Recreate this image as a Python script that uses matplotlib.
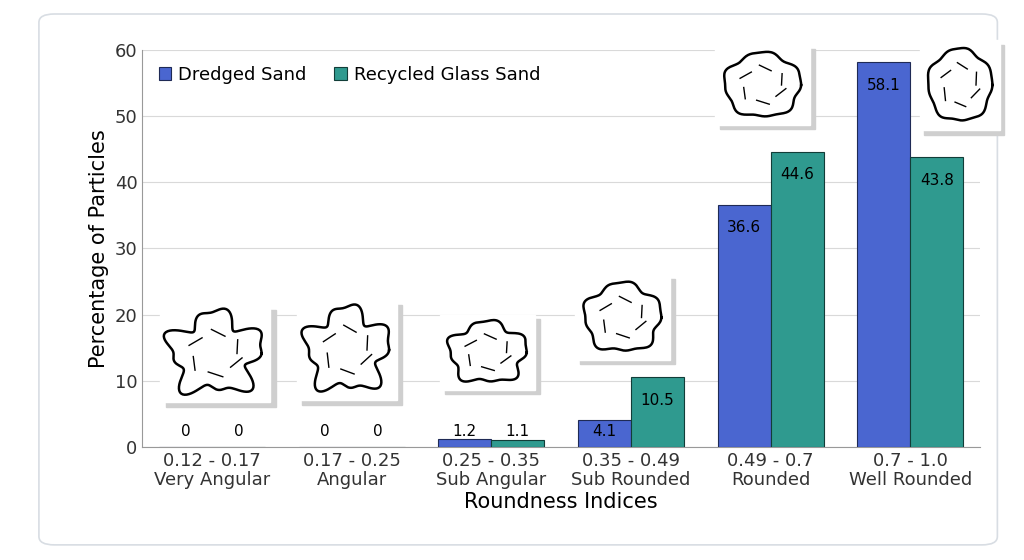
import matplotlib.pyplot as plt
import numpy as np
from matplotlib.patches import FancyBboxPatch, Rectangle

categories = ["0.12 - 0.17\nVery Angular", "0.17 - 0.25\nAngular", "0.25 - 0.35\nSub Angular",
              "0.35 - 0.49\nSub Rounded", "0.49 - 0.7\nRounded", "0.7 - 1.0\nWell Rounded"]
dredged = [0, 0, 1.2, 4.1, 36.6, 58.1]
recycled = [0, 0, 1.1, 10.5, 44.6, 43.8]
dredged_labels = ["0", "0", "1.2", "4.1", "36.6", "58.1"]
recycled_labels = ["0", "0", "1.1", "10.5", "44.6", "43.8"]

blue = "#4a66d0"
teal = "#2f9a8f"

fig = plt.figure(figsize=(10.24, 5.6), dpi=100)
# rounded panel behind the chart
fig.patches.append(FancyBboxPatch((0.038, 0.027), 0.936, 0.948, boxstyle="round,pad=0,rounding_size=0.015",
                                  transform=fig.transFigure, facecolor="white", edgecolor="#d8dde3",
                                  lw=1.2, zorder=-10))

ax = fig.add_axes([0.139, 0.202, 0.818, 0.709])
ax.patch.set_alpha(0)
x = np.arange(len(categories))
w = 0.38
b1 = ax.bar(x - w / 2, dredged, w, color=blue, edgecolor="#1f2a55", lw=0.8, zorder=3, label="Dredged Sand")
b2 = ax.bar(x + w / 2, recycled, w, color=teal, edgecolor="#123d38", lw=0.8, zorder=3, label="Recycled Glass Sand")

for bars, labs in ((b1, dredged_labels), (b2, recycled_labels)):
    for bar, lab in zip(bars, labs):
        h = bar.get_height()
        y = max(h - 3.5, 2.3)
        ax.text(bar.get_x() + bar.get_width() / 2, y, lab, ha="center", va="center", fontsize=11, zorder=4)

ax.set_ylim(0, 60)
ax.set_xlim(-0.5, 5.5)
ax.set_yticks(range(0, 61, 10))
ax.set_xticks(x)
ax.set_xticklabels(categories, fontsize=13, color="#333333", linespacing=1.1)
ax.tick_params(axis="y", labelsize=13, colors="#333333", length=0)
ax.tick_params(axis="x", length=0)
ax.yaxis.grid(True, color="#d9d9d9", lw=0.8, zorder=0)
for s in ["top", "right"]:
    ax.spines[s].set_visible(False)
ax.spines["left"].set_color("#999999")
ax.spines["bottom"].set_color("#999999")
ax.set_xlabel("Roundness Indices", fontsize=15, labelpad=2)
ax.set_ylabel("Percentage of Particles", fontsize=15)
ax.legend(loc="upper left", bbox_to_anchor=(0.0, 1.0), ncol=2, frameon=False, fontsize=13,
          handlelength=0.7, handleheight=0.7, columnspacing=1.5, handletextpad=0.4)

# particle sketches (decorative)
boxes = [(160, 305, 110, 97), (297, 300, 100, 100), (440, 315, 95, 75),
         (575, 275, 95, 85), (715, 45, 95, 80), (920, 40, 80, 90)]
roughness = [0.18, 0.16, 0.1, 0.07, 0.05, 0.04]
for (px, py, pw, ph), r in zip(boxes, roughness):
    iax = fig.add_axes([px / 1024, 1 - (py + ph) / 560, pw / 1024, ph / 560])
    iax.set_xlim(0, 1)
    iax.set_ylim(0, 1)
    iax.axis("off")
    iax.add_patch(Rectangle((0.05, -0.05), 1.0, 1.0, color="#cfcfcf", transform=iax.transAxes, clip_on=False))
    iax.add_patch(Rectangle((0, 0), 1, 1, color="white", transform=iax.transAxes, clip_on=False))
    t = np.linspace(0, 2 * np.pi, 200)
    rad = 0.4 * (1 + r * np.sin(5 * t) + r * 0.6 * np.cos(9 * t + 1))
    iax.plot(0.5 + rad * np.cos(t), 0.5 + rad * np.sin(t), color="black", lw=1.8)
    for k in range(6):
        a = k * 1.1
        iax.plot([0.5 + 0.2 * np.cos(a), 0.5 + 0.25 * np.cos(a + 0.6)],
                 [0.5 + 0.2 * np.sin(a), 0.5 + 0.25 * np.sin(a + 0.6)], color="black", lw=1)

fig.savefig("out.png", dpi=100)
